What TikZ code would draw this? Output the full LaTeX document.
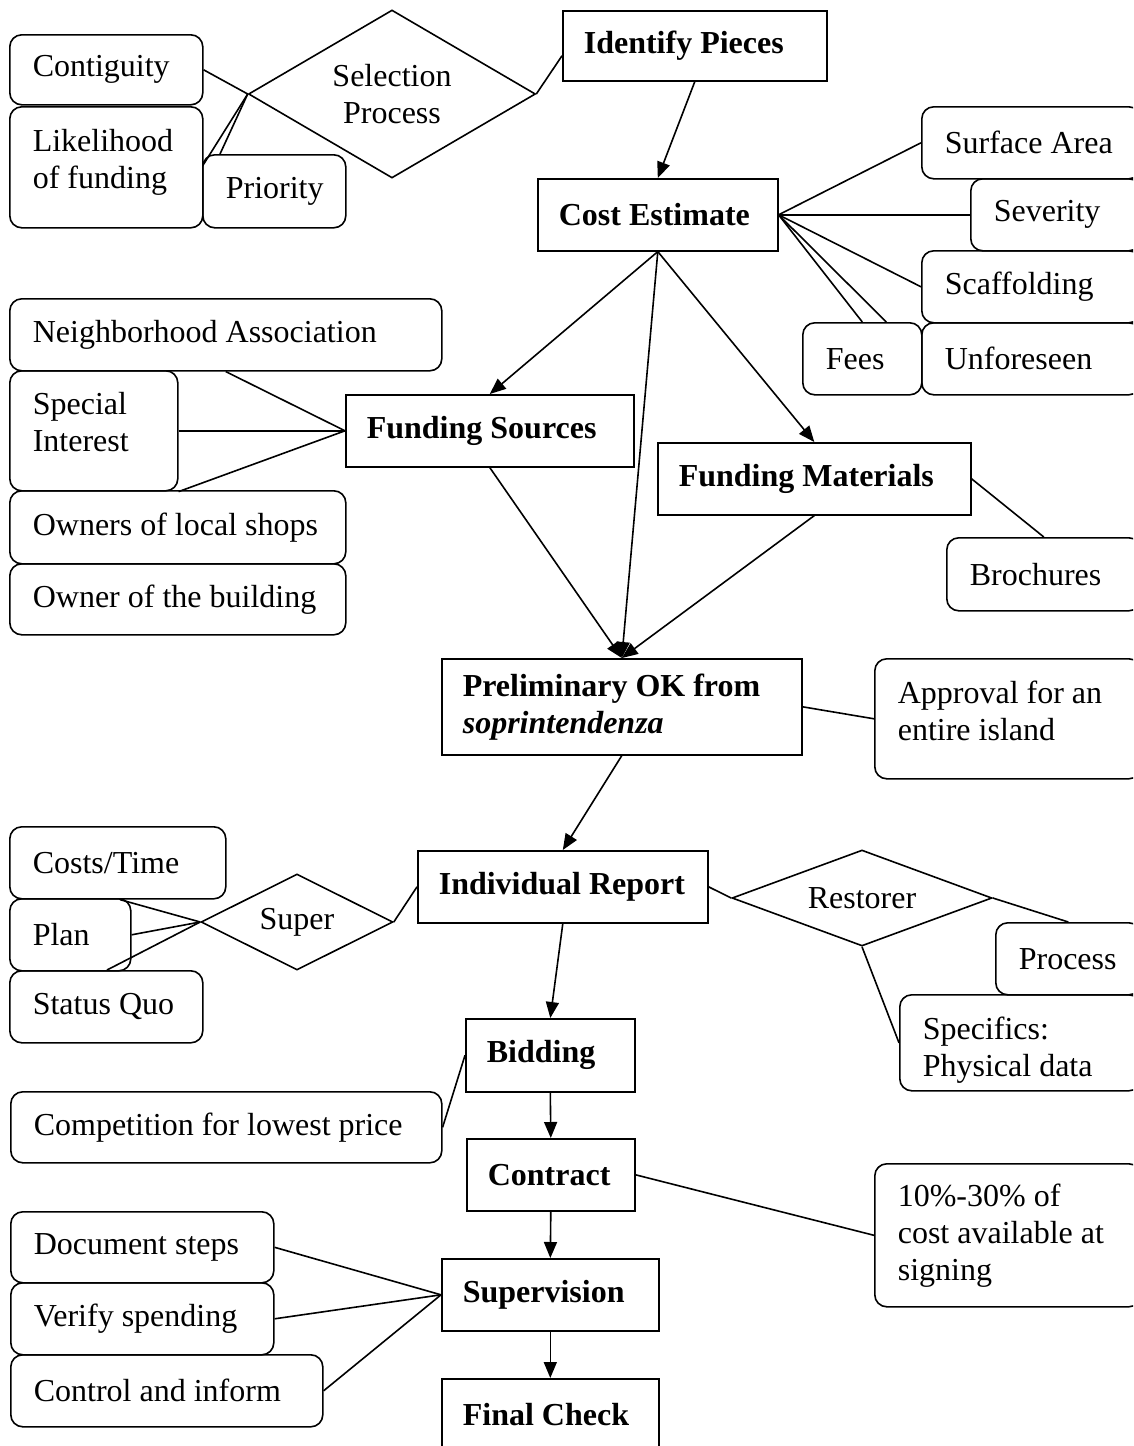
\documentclass[tikz,border=0pt]{standalone}
\usepackage{fontspec}
\setmainfont{Liberation Serif}
\newcommand\dfont{\fontsize{32pt}{37pt}\selectfont}
\usetikzlibrary{arrows.meta,shapes.geometric}
\begin{document}
\begin{tikzpicture}[x=1pt,y=-1pt,
  base/.style={draw, line width=1.6pt, anchor=north west, align=flush left, font=\dfont},
  rbox/.style={base, rounded corners=12pt, inner xsep=23pt, inner ysep=0pt},
  sbox/.style={base, inner xsep=21pt, inner ysep=0pt, font=\dfont\bfseries},
  dia/.style={draw, diamond, line width=1.6pt, inner sep=0pt, align=flush center, font=\dfont},
  conn/.style={line width=1.6pt},
  arr/.style={conn, -{Triangle[length=16pt,width=13pt]}},
  sz/.style n args={3}{minimum width=#1pt, minimum height=#2pt, text width=#3pt}
]
\clip (0,0) rectangle (1133,1446);
% top group
\node[rbox, sz={193}{70}{147}] (contig) at (9,34) {Contiguity};
\node[rbox, sz={193}{121}{147}] (likeli) at (9,106) {\mbox{Likelihood}\\\mbox{of funding}\\[-20pt]\mbox{}};
\node[rbox, sz={143}{73}{97}] (prio) at (202,154) {Priority};
\node[dia, minimum width=287pt, minimum height=168pt, aspect=1.7] (sel) at (392,94) {Selection\\Process};
\node[sbox, sz={264}{70}{222}] (ident) at (562,10) {\mbox{Identify Pieces}};
\node[sbox, sz={240}{72}{198}] (cost) at (537,178) {\mbox{Cost Estimate}};
\node[rbox, sz={219}{72}{173}] (surf) at (921,106) {\mbox{Surface Area}};
\node[rbox, sz={170}{72}{124}] (sev) at (970,178) {Severity};
\node[rbox, sz={219}{72}{173}] (scaf) at (921,250) {Scaffolding};
\node[rbox, sz={119}{72}{73}] (fees) at (802,322) {Fees};
\node[rbox, sz={219}{72}{173}] (unf) at (921,322) {Unforeseen};
% funding
\node[rbox, sz={432}{72}{386}] (neigh) at (9,298) {\mbox{Neighborhood Association}};
\node[rbox, sz={168}{120}{122}] (spec) at (9,370) {\mbox{Special}\\\mbox{Interest}\\[-20pt]\mbox{}};
\node[rbox, sz={336}{73}{290}] (shops) at (9,490) {\mbox{Owners of local shops}};
\node[rbox, sz={336}{71}{290}] (bldg) at (9,563) {\mbox{Owner of the building}};
\node[sbox, sz={288}{72}{246}] (fsrc) at (345,394) {\mbox{Funding Sources}};
\node[sbox, sz={313}{72}{271}] (fmat) at (657,442) {\mbox{Funding Materials}};
\node[rbox, sz={194}{73}{148}] (broch) at (946,537) {Brochures};
\node[sbox, sz={360}{96}{318}] (prelim) at (441,658) {\mbox{Preliminary OK from}\\\mbox{\textit{soprintendenza}}};
\node[rbox, sz={266}{120}{220}] (appr) at (874,658) {\mbox{Approval for an}\\\mbox{entire island}\\[-20pt]\mbox{}};
% report
\node[rbox, sz={216}{72}{170}] (ctime) at (9,826) {Costs/Time};
\node[rbox, sz={121}{72}{75}] (plan) at (9,898) {Plan};
\node[rbox, sz={193}{72}{147}] (squo) at (9,970) {\mbox{Status Quo}};
\node[dia, minimum width=192pt, minimum height=96pt, aspect=2] (super) at (297,922) {Super};
\node[sbox, sz={290}{72}{248}] (indiv) at (417,850) {\mbox{Individual Report}};
\node[dia, minimum width=260pt, minimum height=96pt, aspect=2.7] (rest) at (862,898) {Restorer};
\node[rbox, sz={145}{72}{99}] (proc) at (995,922) {Process};
\node[rbox, sz={241}{96}{195}] (specf) at (899,994) {\mbox{}\\\mbox{Specifics:}\\\mbox{Physical data}};
% bottom
\node[sbox, sz={169}{73}{127}] (bid) at (465,1018) {Bidding};
\node[rbox, sz={431}{71}{385}] (comp) at (10,1091) {\mbox{Competition for lowest price}};
\node[sbox, sz={168}{72}{126}] (contr) at (466,1138) {Contract};
\node[rbox, sz={266}{143}{220}] (pct) at (874,1163) {\mbox{10\%-30\% of}\\\mbox{cost available at}\\\mbox{signing}};
\node[sbox, sz={217}{72}{175}] (superv) at (441,1258) {Supervision};
\node[sbox, sz={217}{72}{175}] (final) at (441,1378) {\mbox{Final Check}};
\node[rbox, sz={263}{71}{217}] (doc) at (10,1211) {\mbox{Document steps}};
\node[rbox, sz={263}{72}{217}] (ver) at (10,1282) {\mbox{Verify spending}};
\node[rbox, sz={312}{72}{266}] (ctrl) at (10,1354) {\mbox{Control and inform}};
% connectors
\draw[conn] (contig.east) -- (sel.west);
\draw[conn] ([yshift=3pt]likeli.east) -- (sel.west);
\draw[conn] ([xshift=18pt]prio.north west) -- (sel.west);
\draw[conn] (sel.east) -- ([yshift=-10pt]ident.west);
\draw[arr] (ident.south) -- (cost.north);
\draw[conn] (cost.east) -- (surf.west);
\draw[conn] (cost.east) -- (sev.west);
\draw[conn] (cost.east) -- (scaf.west);
\draw[conn] (cost.east) -- (fees.north);
\draw[conn] (cost.east) -- ([xshift=24pt]fees.north);
\draw[arr] (cost.south) -- (fsrc.north);
\draw[arr] (cost.south) -- (prelim.north);
\draw[arr] (cost.south) -- (fmat.north);
\draw[conn] (neigh.south) -- (fsrc.west);
\draw[conn] (spec.east) -- (fsrc.west);
\draw[conn] (spec.south east) -- (fsrc.west);
\draw[arr] (fsrc.south) -- (prelim.north);
\draw[arr] (fmat.south) -- (prelim.north);
\draw[conn] (fmat.east) -- (broch.north);
\draw[conn] (prelim.east) -- (appr.west);
\draw[arr] (prelim.south) -- (indiv.north);
\draw[conn] (indiv.east) -- (rest.west);
\draw[conn] (rest.east) -- (proc.north);
\draw[conn] (rest.south) -- (specf.west);
\draw[conn] ([xshift=111pt]ctime.south west) -- (super.west);
\draw[conn] (plan.east) -- (super.west);
\draw[conn] ([xshift=98pt]squo.north west) -- (super.west);
\draw[conn] (super.east) -- (indiv.west);
\draw[arr] (indiv.south) -- (bid.north);
\draw[conn] (comp.east) -- (bid.west);
\draw[arr] (bid.south) -- (contr.north);
\draw[arr] (contr.south) -- (superv.north);
\draw[arr] (superv.south) -- (final.north);
\draw[conn] (contr.east) -- (pct.west);
\draw[conn] (doc.east) -- (superv.west);
\draw[conn] (ver.east) -- (superv.west);
\draw[conn] (ctrl.east) -- (superv.west);
\end{tikzpicture}
\end{document}
